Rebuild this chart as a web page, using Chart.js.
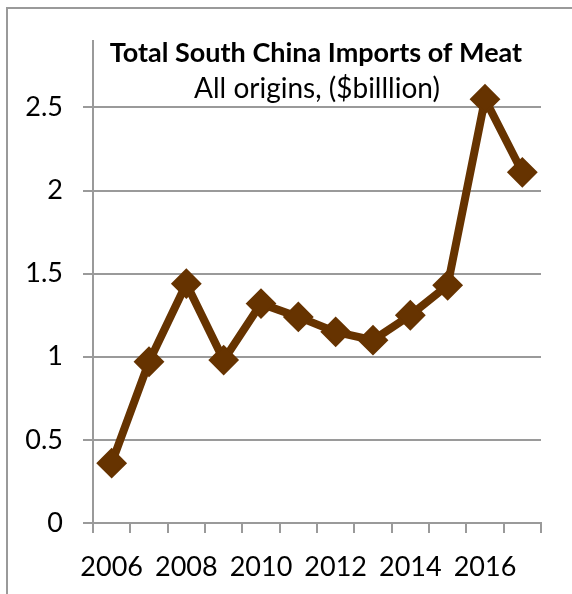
<!DOCTYPE html>
<html>
<head>
<meta charset="utf-8">
<title>Total South China Imports of Meat</title>
<script src="https://cdn.jsdelivr.net/npm/chart.js@4"></script>
<style>
    html, body { margin: 0; padding: 0; background: #fff; overflow: hidden; }
    .frame {
        position: absolute; left: 6px; top: 7px;
        width: 640px; height: 640px;
        border: 2px solid #9a9a9a;
    }
    .chart-box { position: absolute; left: 0; top: 0; width: 572px; height: 594px; }
</style>
</head>
<body>
<div class="frame"></div>
<div class="chart-box"><canvas id="meatChart"></canvas></div>
<script>
// Imports by year, $ billion
const years = ['2006', '2007', '2008', '2009', '2010', '2011', '2012', '2013', '2014', '2015', '2016', '2017'];
const imports = [0.36, 0.97, 1.44, 0.98, 1.32, 1.24, 1.15, 1.10, 1.25, 1.43, 2.55, 2.11];
const titleLines = ['Total South China Imports of Meat', 'All origins, ($billlion)'];

const FONT = 'Lato, "Open Sans", sans-serif';
const GRID = '#9a9a9a';
const BROWN = '#663300';

// Title sits inside the plot, above the 2.5 gridline
const titlePlugin = {
    id: 'innerTitle',
    afterDraw(chart) {
        const ctx = chart.ctx;
        ctx.save();
        ctx.fillStyle = '#000';
        ctx.textAlign = 'center';
        ctx.textBaseline = 'alphabetic';
        ctx.font = 'bold 27px ' + FONT;
        ctx.fillText(titleLines[0], 316, 62);
        ctx.font = '28px ' + FONT;
        ctx.fillText(titleLines[1], 317, 98);
        ctx.restore();
    }
};

const ctx = document.getElementById('meatChart').getContext('2d');
new Chart(ctx, {
    type: 'line',
    data: {
        labels: years,
        datasets: [{
            data: imports,
            borderColor: BROWN,
            backgroundColor: BROWN,
            borderWidth: 8,
            tension: 0,
            pointStyle: 'rectRot',
            pointRadius: 14,
            pointBackgroundColor: BROWN,
            pointBorderColor: BROWN,
            pointBorderWidth: 2,
            clip: false
        }]
    },
    options: {
        responsive: true,
        maintainAspectRatio: false,
        animation: false,
        layout: { padding: { top: 41, right: 31, left: 0, bottom: 0 } },
        plugins: {
            legend: { display: false },
            tooltip: { enabled: false }
        },
        scales: {
            x: {
                type: 'category',
                offset: true,
                grid: {
                    offset: true,
                    drawOnChartArea: false,
                    drawTicks: true,
                    tickLength: 10,
                    color: GRID,
                    lineWidth: 2
                },
                border: { display: true, color: GRID, width: 2 },
                ticks: {
                    autoSkip: false,
                    maxRotation: 0,
                    padding: 18,
                    color: '#000',
                    font: { family: FONT, size: 27 },
                    callback: (v, i) => (i % 2 === 0 ? years[i] : '')
                },
                afterFit: (scale) => { scale.height = 71; }
            },
            y: {
                min: 0,
                max: 2.9,
                grid: {
                    color: GRID,
                    lineWidth: 2,
                    tickLength: 10
                },
                border: { display: true, color: GRID, width: 2 },
                ticks: {
                    stepSize: 0.5,
                    includeBounds: false,
                    padding: 20,
                    color: '#000',
                    font: { family: FONT, size: 27 },
                    callback: (v) => String(v)
                },
                afterFit: (scale) => { scale.width = 93; }
            }
        }
    },
    plugins: [titlePlugin]
});
</script>
</body>
</html>
